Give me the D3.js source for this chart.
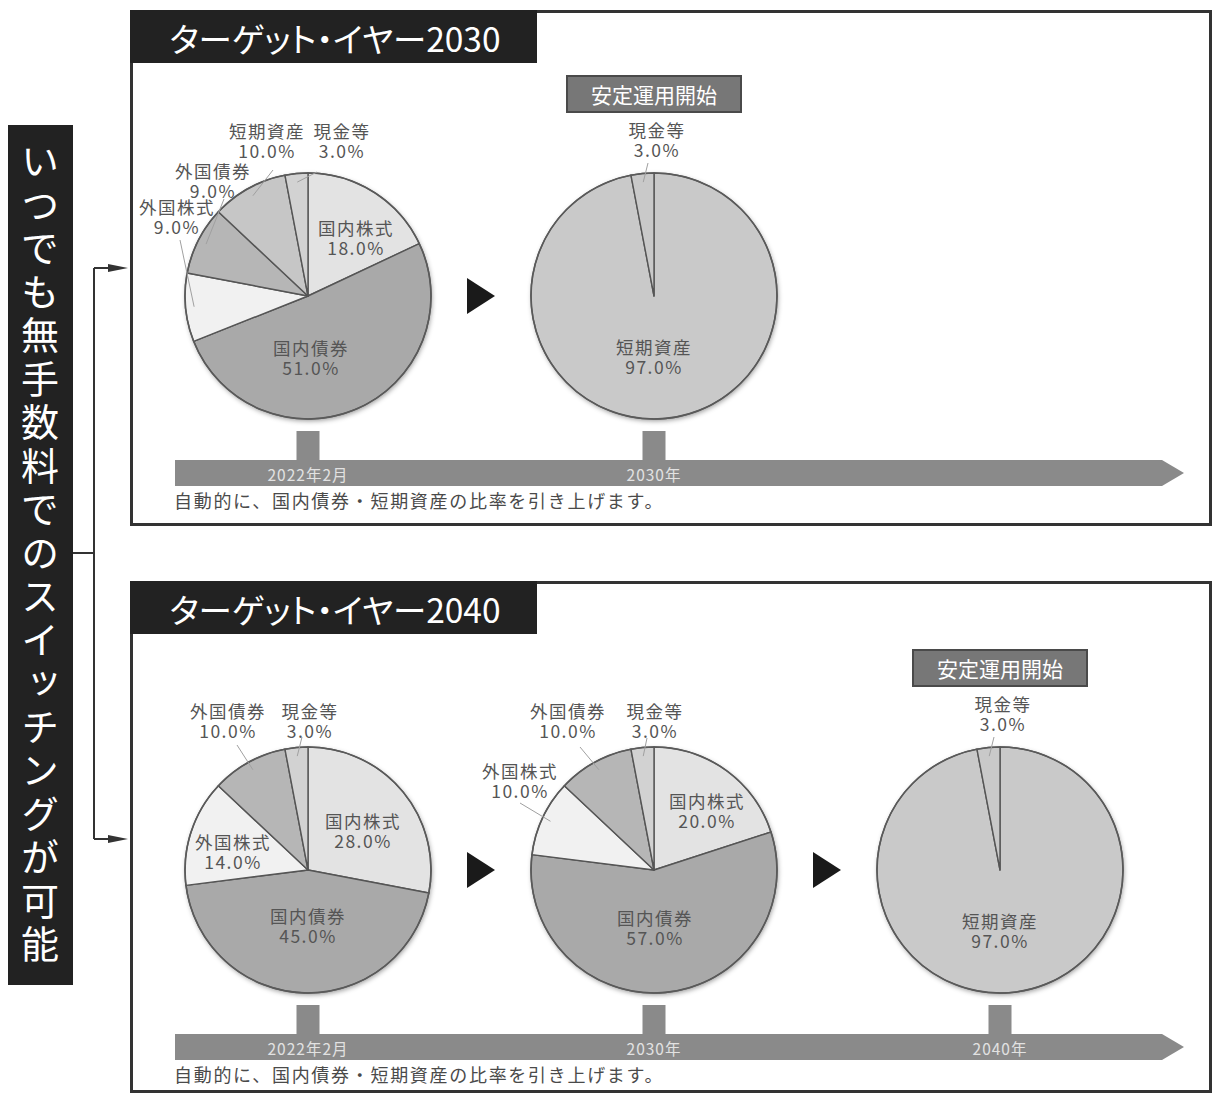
<!DOCTYPE html>
<html lang="ja">
<head>
<meta charset="utf-8">
<script src="https://cdn.jsdelivr.net/npm/d3@7"></script>
<style>
  body { margin: 0; background: #fff; }
  svg { display: block; font-family: "Noto Sans CJK JP", "Noto Sans", sans-serif; }
</style>
</head>
<body>
<div id="container"></div>
<script>
/* CONSTANTS AND GLOBALS */
const width = 1214,
  height = 1095,
  radius = 123;

/* DATA */
const categories = ["国内株式", "国内債券", "外国株式", "外国債券", "短期資産", "現金等"];
const target2030Start = [18, 51, 9, 9, 10, 3];
const target2030Stable = [0, 0, 0, 0, 97, 3];
const target2040Start = [28, 45, 14, 10, 0, 3];
const target2040Mid = [20, 57, 10, 10, 0, 3];
const target2040Stable = [0, 0, 0, 0, 97, 3];
const timeline2030 = ["2022年2月", "2030年"];
const timeline2040 = ["2022年2月", "2030年", "2040年"];
const panelTitles = ["ターゲット・イヤー2030", "ターゲット・イヤー2040"];
const stableText = "安定運用開始";
const captionText = "自動的に、国内債券・短期資産の比率を引き上げます。";
const bannerText = "いつでも無手数料でのスイッチングが可能";

// label placement (relative to pie centre), leader start point if outside
const layoutStart2030 = {
  "国内株式": { x: 47, y: -67 },
  "国内債券": { x: 2, y: 53 },
  "外国株式": { x: -132, y: -88, lead: [-128, -56] },
  "外国債券": { x: -96, y: -124, lead: [-84, -97] },
  "短期資産": { x: -42, y: -164, lead: [-35, -126] },
  "現金等": { x: 33, y: -164, lead: [9, -124] }
};
const layoutStable = {
  "短期資産": { x: -1, y: 52 },
  "現金等": { x: 2, y: -165, lead: [-6, -133] }
};
const layoutStart2040 = {
  "国内株式": { x: 54, y: -48 },
  "国内債券": { x: -1, y: 47 },
  "外国株式": { x: -76, y: -27 },
  "外国債券": { x: -81, y: -158, lead: [-71, -125] },
  "現金等": { x: 1, y: -158, lead: [-6, -133] }
};
const layoutMid2040 = {
  "国内株式": { x: 52, y: -68 },
  "国内債券": { x: 0, y: 49 },
  "外国株式": { x: -135, y: -98, lead: [-134, -67] },
  "外国債券": { x: -87, y: -158, lead: [-74, -123] },
  "現金等": { x: 0, y: -158, lead: [-7, -132] }
};

const panels = [
  {
    title: panelTitles[0], top: 10, bottom: 525, cy: 296,
    pies: [
      { slot: 0, values: target2030Start, layout: layoutStart2030 },
      { slot: 1, values: target2030Stable, layout: layoutStable, flat: true }
    ],
    ticks: timeline2030, stableSlot: 1
  },
  {
    title: panelTitles[1], top: 581, bottom: 1092, cy: 870,
    pies: [
      { slot: 0, values: target2040Start, layout: layoutStart2040 },
      { slot: 1, values: target2040Mid, layout: layoutMid2040 },
      { slot: 2, values: target2040Stable, layout: layoutStable, flat: true }
    ],
    ticks: timeline2040, stableSlot: 2
  }
];

let svg;
let xScale;
let colorScale;
let pie;
let arc;

init();

/* INITIALIZING FUNCTION */
function init() {
  xScale = d3.scaleLinear()
    .domain([0, 2])
    .range([308, 1000]);

  colorScale = d3.scaleOrdinal()
    .domain(categories)
    .range(["#e3e3e3", "#a9a9a9", "#f1f1f1", "#b6b6b6", "#c6c6c6", "#d2d2d2"]);

  pie = d3.pie().sort(null).value(d => d.value);
  arc = d3.arc().innerRadius(0).outerRadius(radius);

  svg = d3.select("#container")
    .append("svg")
    .attr("width", width)
    .attr("height", height)
    .attr("viewBox", [0, 0, width, height]);

  const defs = svg.append("defs");
  defs.append("filter")
    .attr("id", "pieShadow")
    .attr("x", "-20%").attr("y", "-20%")
    .attr("width", "140%").attr("height", "140%")
    .append("feDropShadow")
    .attr("dx", 1).attr("dy", 2)
    .attr("stdDeviation", 2.5)
    .attr("flood-color", "#000")
    .attr("flood-opacity", 0.4);

  drawBanner();
  panels.forEach(drawPanel);
}

/* LEFT BANNER + BRACKET */
function drawBanner() {
  svg.append("rect")
    .attr("x", 8).attr("y", 125)
    .attr("width", 65).attr("height", 860)
    .attr("fill", "#222");

  svg.append("text")
    .attr("x", 40).attr("y", 142)
    .style("writing-mode", "vertical-rl")
    .style("text-orientation", "upright")
    .style("letter-spacing", "5.5px")
    .attr("fill", "#fff")
    .attr("font-size", 38)
    .text(bannerText);

  const g = svg.append("g")
    .attr("stroke", "#333")
    .attr("stroke-width", 2)
    .attr("fill", "none");
  g.append("path").attr("d", "M73,553H94");
  g.append("path").attr("d", "M94,268V839");
  g.append("path").attr("d", "M94,268H112");
  g.append("path").attr("d", "M94,839H112");

  [268, 839].forEach(y => {
    svg.append("path")
      .attr("d", `M108,${y - 4}L128,${y}L108,${y + 4}Z`)
      .attr("fill", "#333");
  });
}

/* PANEL */
function drawPanel(p) {
  const g = svg.append("g");
  const cy = p.cy;

  // frame
  g.append("rect")
    .attr("x", 131.5).attr("y", p.top + 1.5)
    .attr("width", 1079).attr("height", p.bottom - p.top - 2)
    .attr("fill", "#fff")
    .attr("stroke", "#333")
    .attr("stroke-width", 3);

  // title tab
  g.append("rect")
    .attr("x", 130).attr("y", p.top)
    .attr("width", 407).attr("height", 53)
    .attr("fill", "#222");
  g.append("text")
    .attr("x", 335).attr("y", p.top + 27)
    .attr("text-anchor", "middle")
    .attr("dominant-baseline", "central")
    .style("font-feature-settings", "'palt'")
    .attr("fill", "#fff")
    .attr("font-size", 33.5)
    .text(p.title);

  // stable box
  const sx = xScale(p.stableSlot);
  g.append("rect")
    .attr("x", sx - 87).attr("y", cy - 220)
    .attr("width", 174).attr("height", 36)
    .attr("fill", "#777")
    .attr("stroke", "#4a4a4a")
    .attr("stroke-width", 2);
  g.append("text")
    .attr("x", sx).attr("y", cy - 202)
    .attr("text-anchor", "middle")
    .attr("dominant-baseline", "central")
    .attr("fill", "#fff")
    .attr("font-size", 21)
    .text(stableText);

  // arrows between pies
  d3.range(p.pies.length - 1).forEach(i => {
    const ax = (xScale(i) + xScale(i + 1)) / 2;
    g.append("path")
      .attr("d", `M${ax - 14},${cy - 18}L${ax + 14},${cy}L${ax - 14},${cy + 18}Z`)
      .attr("fill", "#1a1a1a");
  });

  // timeline
  const barTop = cy + 164;
  g.append("path")
    .attr("d", `M175,${barTop}H1162L1184,${barTop + 13}L1162,${barTop + 26}H175Z`)
    .attr("fill", "#8a8a8a");

  g.selectAll("rect.stem")
    .data(p.ticks)
    .join("rect")
    .attr("class", "stem")
    .attr("x", (d, i) => xScale(i) - 11.5)
    .attr("y", cy + 135)
    .attr("width", 23)
    .attr("height", 30)
    .attr("fill", "#8a8a8a");

  g.selectAll("text.tick")
    .data(p.ticks)
    .join("text")
    .attr("class", "tick")
    .attr("x", (d, i) => xScale(i))
    .attr("y", barTop + 14)
    .attr("text-anchor", "middle")
    .attr("dominant-baseline", "central")
    .style("letter-spacing", "1px")
    .attr("fill", "#e2e2e2")
    .attr("font-size", 15.5)
    .text(d => d);

  g.append("text")
    .attr("x", 174).attr("y", cy + 204)
    .attr("dominant-baseline", "central")
    .style("letter-spacing", "1.7px")
    .attr("fill", "#4a4a4a")
    .attr("font-size", 18)
    .text(captionText);

  p.pies.forEach(pd => drawPie(g, pd, xScale(pd.slot), cy));
}

/* PIE */
function drawPie(parent, pd, cx, cy) {
  const rows = categories.map((c, i) => ({ cat: c, value: pd.values[i] }));
  const arcs = pie(rows).filter(d => d.data.value > 0);

  const g = parent.append("g")
    .attr("transform", `translate(${cx},${cy})`);

  g.append("circle")
    .attr("r", radius)
    .attr("fill", pd.flat ? "#c9c9c9" : "#ccc")
    .attr("filter", "url(#pieShadow)");

  g.selectAll("path.slice")
    .data(arcs)
    .join("path")
    .attr("class", "slice")
    .attr("d", arc)
    .attr("fill", d => pd.flat ? "#c9c9c9" : colorScale(d.data.cat))
    .attr("stroke", "#555")
    .attr("stroke-width", 1.4)
    .attr("stroke-linejoin", "round");

  g.append("circle")
    .attr("r", radius)
    .attr("fill", "none")
    .attr("stroke", "#5a5a5a")
    .attr("stroke-width", 1.6);

  // leader lines
  const leaders = arcs.filter(d => pd.layout[d.data.cat] && pd.layout[d.data.cat].lead);
  g.selectAll("line.leader")
    .data(leaders)
    .join("line")
    .attr("class", "leader")
    .attr("x1", d => pd.layout[d.data.cat].lead[0])
    .attr("y1", d => pd.layout[d.data.cat].lead[1])
    .attr("x2", d => Math.sin((d.startAngle + d.endAngle) / 2) * radius * 0.93)
    .attr("y2", d => -Math.cos((d.startAngle + d.endAngle) / 2) * radius * 0.93)
    .attr("stroke", "#a0a0a0")
    .attr("stroke-width", 1);

  // labels
  const labels = g.selectAll("text.label")
    .data(arcs.filter(d => pd.layout[d.data.cat]))
    .join("text")
    .attr("class", "label")
    .attr("text-anchor", "middle")
    .style("letter-spacing", "1.5px")
    .attr("fill", "#555")
    .attr("font-size", 17.5);

  labels.append("tspan")
    .attr("x", d => pd.layout[d.data.cat].x + 1)
    .attr("y", d => pd.layout[d.data.cat].y + 6)
    .text(d => d.data.cat);
  labels.append("tspan")
    .attr("x", d => pd.layout[d.data.cat].x + 1)
    .attr("y", d => pd.layout[d.data.cat].y + 26)
    .text(d => d.data.value.toFixed(1) + "%");
}
</script>
</body>
</html>
